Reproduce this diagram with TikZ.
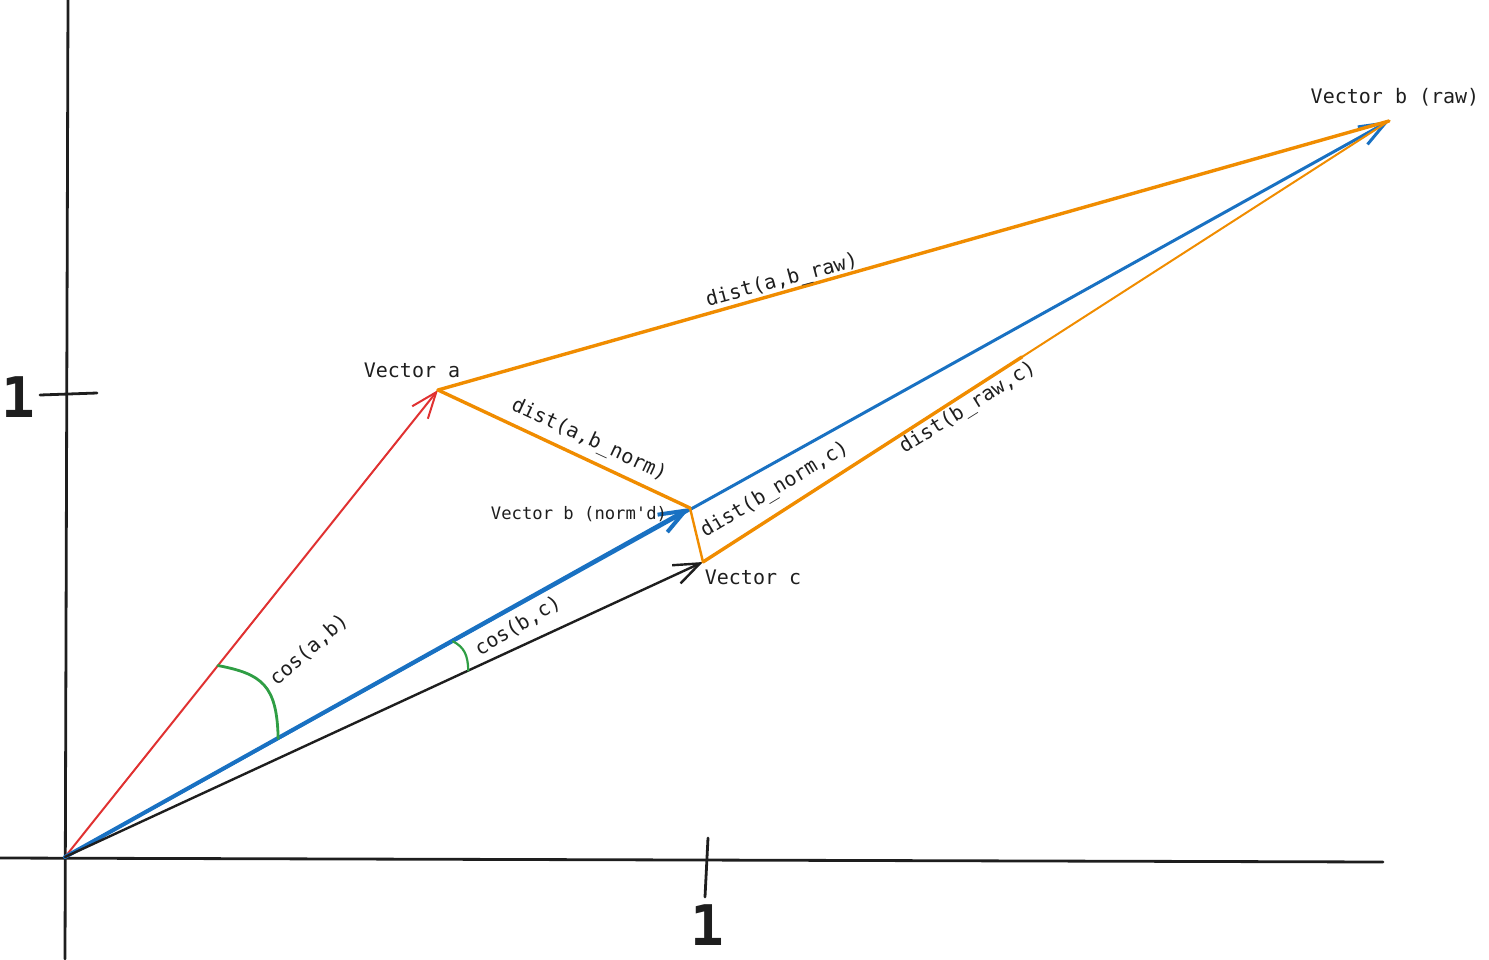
\documentclass[tikz,border=0pt]{standalone}
\usepackage{fontspec}
\setmonofont{DejaVu Sans Mono}
\usetikzlibrary{arrows.meta,calc}
\definecolor{vred}{HTML}{E03131}
\definecolor{vblue}{HTML}{1971C2}
\definecolor{vorange}{HTML}{F08C00}
\definecolor{vgreen}{HTML}{2F9E44}
\definecolor{vblack}{HTML}{1E1E1E}
\begin{document}
\begin{tikzpicture}[x=0.5pt,y=-0.5pt,line cap=round,line join=round,
  lbl/.style={font=\ttfamily\fontsize{10}{12}\selectfont,text=vblack,inner sep=1pt},
  ax/.style={draw=vblack,line width=1.4pt},
  vec/.style={-{Straight Barb[length=13pt,width=10pt]}},
  dist/.style={draw=vorange,line width=1.7pt},
  ang/.style={draw=vgreen,line width=1.4pt}]
\useasboundingbox (0,0) rectangle (1489,959);

% points
\coordinate (O) at (65,857);
\coordinate (a) at (438,390);
\coordinate (bn) at (690,508);
\coordinate (c) at (703,562);
\coordinate (br) at (1389,121);

% axes
\coordinate (xl) at (0,858);
\coordinate (xr) at (1383,862);
\coordinate (yt) at (68,0);
\coordinate (yb) at (65,959);
\draw[ax] (xl) -- (xr);
\draw[ax] (yt) -- (yb);
\coordinate (xt1) at (708,838);
\coordinate (xt2) at (705,897);
\coordinate (yt1) at (40,395);
\coordinate (yt2) at (97,393);
\draw[ax] (xt1) -- (xt2);
\draw[ax] (yt1) -- (yt2);
\node (onex) at (707,925) [font=\ttfamily\bfseries\fontsize{28}{30}\selectfont,text=vblack] {1};
\node (oney) at (18,397) [font=\ttfamily\bfseries\fontsize{28}{30}\selectfont,text=vblack] {1};

% vectors
\draw[vec,vred,line width=1pt] (O) -- (a);
\draw[vec,vblue,line width=1.5pt] (O) -- (br);
\draw[vec,vblue,line width=2pt] (O) -- (bn);
\draw[vec,vblack,line width=1.2pt] (O) -- (c);

% distances
\draw[dist] (a) -- (br);
\draw[dist] (a) -- (bn);
\draw[dist,line width=1.2pt] (bn) -- (c);
\draw[dist,line width=1pt] (c) -- (br);
\coordinate (cm) at ($(c)!0.465!(br)$);
\draw[dist] (c) -- (cm);

% angles
\coordinate (ab1) at ($(O)!0.41!(a)$);
\coordinate (ab2) at ($(O)!0.161!(br)$);
\draw[ang] (ab1) .. controls (262,674) and (277,685) .. (ab2);
\coordinate (bc1) at ($(O)!0.293!(br)$);
\coordinate (bc2) at ($(O)!0.632!(c)$);
\draw[ang,line width=1.1pt] (bc1) .. controls (464,647) and (468,655) .. (bc2);

% labels
\node[lbl] (la) at (412,370) {Vector a};
\node[lbl,font=\ttfamily\fontsize{8.6}{10}\selectfont] (lbn) at (579,514) {Vector b (norm'd)};
\node[lbl] (lc) at (753,577) {Vector c};
\node[lbl] (lbr) at (1395,97) {Vector b (raw)};

\node[lbl,rotate=41] (lcab) at (309,650) {cos(a,b)};
\node[lbl,rotate=31] (lcbc) at (518,626) {cos(b,c)};
\node[lbl,rotate=15] (ldabr) at (782,281) {dist(a,b\_raw)};
\node[lbl,rotate=-25] (ldabn) at (589,440) {dist(a,b\_norm)};
\node[lbl,rotate=31] (ldbnc) at (775,490) {dist(b\_norm,c)};
\node[lbl,rotate=32] (ldbrc) at (968,408) {dist(b\_raw,c)};
\end{tikzpicture}
\end{document}
